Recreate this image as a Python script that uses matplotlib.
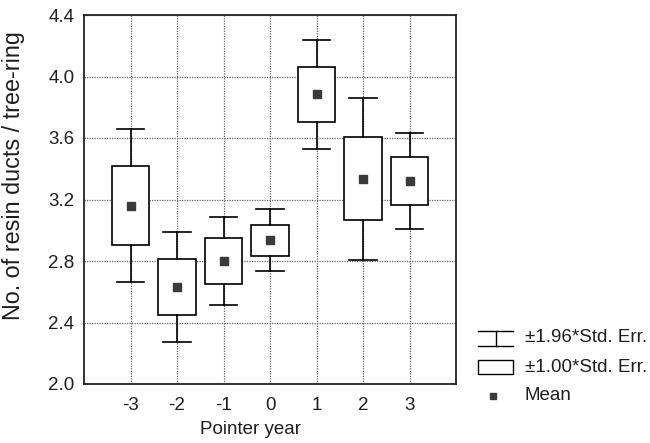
import matplotlib
matplotlib.use("Agg")
import matplotlib.pyplot as plt
from matplotlib.patches import Rectangle
from matplotlib.lines import Line2D

plt.rcParams['font.family'] = ['Liberation Sans', 'DejaVu Sans']

pointer_years = [-3, -2, -1, 0, 1, 2, 3]
means = [3.16, 2.63, 2.80, 2.934, 3.884, 3.334, 3.32]
std_errs = [0.255, 0.182, 0.147, 0.103, 0.18, 0.27, 0.158]
x_ticks = [-3, -2, -1, 0, 1, 2, 3]
y_ticks = [2.0, 2.4, 2.8, 3.2, 3.6, 4.0, 4.4]
legend_labels = ['±1.96*Std. Err.', '±1.00*Std. Err.', 'Mean']

W, H = 650, 443
fig = plt.figure(figsize=(W / 100, H / 100), dpi=100)
ax = fig.add_axes([84 / W, 1 - 384 / H, (456 - 84) / W, (384 - 15) / H])

FS = 13.5
TXT = '#1e1e1e'
box_w = 0.8
cap_w = 0.6
lw = 1.2
for x, m, se in zip(pointer_years, means, std_errs):
    lo1, hi1 = m - se, m + se
    lo2, hi2 = m - 1.96 * se, m + 1.96 * se
    ax.add_patch(Rectangle((x - box_w / 2, lo1), box_w, hi1 - lo1,
                           facecolor='white', edgecolor='black', lw=lw, zorder=3))
    ax.plot([x, x], [hi1, hi2], color='black', lw=lw, zorder=3)
    ax.plot([x, x], [lo2, lo1], color='black', lw=lw, zorder=3)
    ax.plot([x - cap_w / 2, x + cap_w / 2], [hi2, hi2], color='black', lw=lw, zorder=3)
    ax.plot([x - cap_w / 2, x + cap_w / 2], [lo2, lo2], color='black', lw=lw, zorder=3)
    ax.plot([x], [m], marker='s', markersize=6, color='#3a3a3a', zorder=4, linestyle='none')

ax.set_xlim(-4, 4)
ax.set_ylim(2.0, 4.4)
ax.set_xticks(x_ticks)
ax.set_xticklabels([str(t) for t in x_ticks])
ax.set_yticks(y_ticks)
ax.set_yticklabels([f'{t:.1f}' for t in y_ticks])
ax.grid(True, color='#666666', linestyle=(0, (1, 1)), linewidth=0.9, zorder=0)
ax.set_axisbelow(True)
ax.tick_params(axis='both', length=0, labelsize=FS, colors=TXT)
ax.tick_params(axis='x', pad=9)
ax.tick_params(axis='y', pad=7)
for s in ax.spines.values():
    s.set_linewidth(1.3)
    s.set_color('#222222')


def fx(px):
    return px / W


def fy(py):
    return 1 - py / H


ax.set_xlabel('Pointer year', fontsize=FS, color=TXT)
ax.xaxis.set_label_coords(fx(250), fy(430), transform=fig.transFigure)
ax.xaxis.label.set_va('center')
ax.set_ylabel('No. of resin ducts / tree-ring', fontsize=16.8, color=TXT)
ax.yaxis.set_label_coords(fx(14), fy(176), transform=fig.transFigure)
ax.yaxis.label.set_va('center')

# legend, drawn in figure pixel coordinates
sx0, sx1 = 478, 513
rows = [338, 367, 396]
lk = dict(color='black', lw=1.0, transform=fig.transFigure)
y0 = rows[0]
fig.add_artist(Line2D([fx(sx0), fx(sx1)], [fy(y0 - 7), fy(y0 - 7)], **lk))
fig.add_artist(Line2D([fx(sx0), fx(sx1)], [fy(y0 + 8), fy(y0 + 8)], **lk))
fig.add_artist(Line2D([fx((sx0 + sx1) / 2), fx((sx0 + sx1) / 2)], [fy(y0 - 7), fy(y0 + 8)], **lk))
y1 = rows[1]
fig.add_artist(Rectangle((fx(sx0), fy(y1 + 7)), fx(sx1) - fx(sx0), fy(y1 - 7) - fy(y1 + 7),
                         facecolor='white', edgecolor='black', lw=1.0, transform=fig.transFigure))
y2 = rows[2]
fig.add_artist(Line2D([fx(493)], [fy(y2)], marker='s', markersize=5, color='#3a3a3a',
                      linestyle='none', transform=fig.transFigure))
for py, lab in zip(rows, legend_labels):
    fig.text(fx(525), fy(py), lab, fontsize=FS, color=TXT, va='center', ha='left')

fig.savefig('out.png', dpi=100)
